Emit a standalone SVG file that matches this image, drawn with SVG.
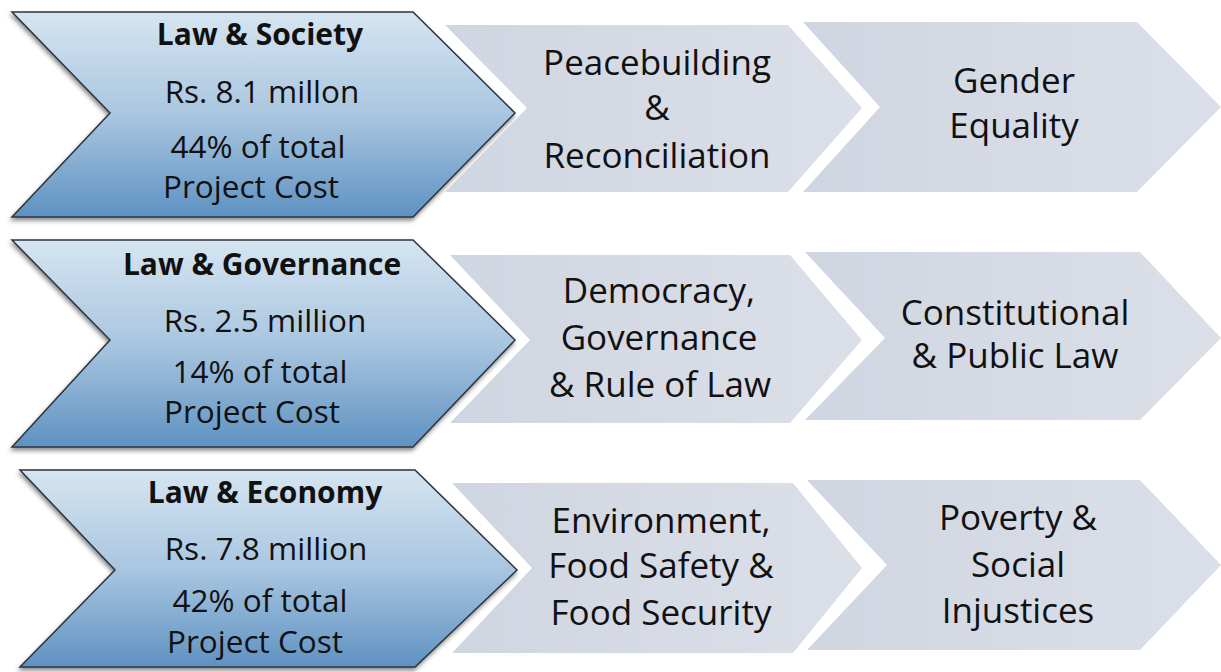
<svg xmlns="http://www.w3.org/2000/svg" width="1221" height="672" viewBox="0 0 1221 672">
<defs>
<linearGradient id="blueGrad" x1="0" y1="0" x2="0" y2="1">
<stop offset="0" stop-color="#d6e5f1"/>
<stop offset="0.5" stop-color="#a9c6e0"/>
<stop offset="1" stop-color="#5e92c2"/>
</linearGradient>
<linearGradient id="grayGrad" x1="0" y1="0" x2="1" y2="0">
<stop offset="0" stop-color="#d0d6e1"/>
<stop offset="1" stop-color="#dbdfe8"/>
</linearGradient>
<filter id="shadow" x="-5%" y="-5%" width="115%" height="120%">
<feDropShadow dx="-1" dy="3" stdDeviation="2" flood-color="#333" flood-opacity="0.55"/>
</filter>
</defs>
<style>
.blue{fill:url(#blueGrad);stroke:#2b3440;stroke-width:1.5;filter:url(#shadow)}
.gray{fill:url(#grayGrad);stroke:none}
text{font-family:"Open Sans","Liberation Sans",sans-serif;fill:#111;text-anchor:middle}
.h{font-weight:bold;font-size:30px}
.b{font-size:31.5px}
.g{font-size:35px}
</style>
<rect width="1221" height="672" fill="#ffffff"/>
<g id="connectors"/>
<g id="law-society">
<polygon class="blue" points="12,12 413,12 515,113 413,217 12,217 110,113"/>
<text class="h" x="260" y="45">Law &amp; Society</text>
<text class="b" x="262" y="103">Rs. 8.1 millon</text>
<text class="b" x="258" y="158">44% of total</text>
<text class="b" x="251" y="198">Project Cost</text>
</g>
<g id="peacebuilding">
<polygon class="gray" points="445,25 788,25 862,108 788,192 445,192 527,108"/>
<text class="g" x="657" y="75">Peacebuilding</text>
<text class="g" x="657" y="120">&amp;</text>
<text class="g" x="657" y="168">Reconciliation</text>
</g>
<g id="gender-equality">
<polygon class="gray" points="803,22 1137,22 1221,107 1137,192 803,192 880,107"/>
<text class="g" x="1014" y="93">Gender</text>
<text class="g" x="1014" y="138">Equality</text>
</g>
<g id="law-governance">
<polygon class="blue" points="12,240 413,240 515,340 413,447 12,447 110,340"/>
<text class="h" x="262" y="275">Law &amp; Governance</text>
<text class="b" x="265" y="332">Rs. 2.5 million</text>
<text class="b" x="260" y="383">14% of total</text>
<text class="b" x="252" y="423">Project Cost</text>
</g>
<g id="democracy">
<polygon class="gray" points="450,255 790,255 862,340 790,423 450,423 530,340"/>
<text class="g" x="659" y="303">Democracy,</text>
<text class="g" x="659" y="350">Governance</text>
<text class="g" x="660" y="397">&amp; Rule of Law</text>
</g>
<g id="constitutional">
<polygon class="gray" points="805,252 1140,252 1221,338 1140,420 805,420 885,338"/>
<text class="g" x="1015" y="325">Constitutional</text>
<text class="g" x="1015" y="368">&amp; Public Law</text>
</g>
<g id="law-economy">
<polygon class="blue" points="20,470 415,470 517,570 415,667 20,667 115,570"/>
<text class="h" x="265" y="503">Law &amp; Economy</text>
<text class="b" x="266" y="560">Rs. 7.8 million</text>
<text class="b" x="260" y="612">42% of total</text>
<text class="b" x="255" y="653">Project Cost</text>
</g>
<g id="environment">
<polygon class="gray" points="452,483 793,483 862,568 793,653 452,653 532,568"/>
<text class="g" x="661" y="533">Environment,</text>
<text class="g" x="661" y="578">Food Safety &amp;</text>
<text class="g" x="661" y="625">Food Security</text>
</g>
<g id="poverty">
<polygon class="gray" points="807,480 1140,480 1221,565 1140,650 807,650 887,565"/>
<text class="g" x="1018" y="530">Poverty &amp;</text>
<text class="g" x="1018" y="577">Social</text>
<text class="g" x="1018" y="623">Injustices</text>
</g>
</svg>
